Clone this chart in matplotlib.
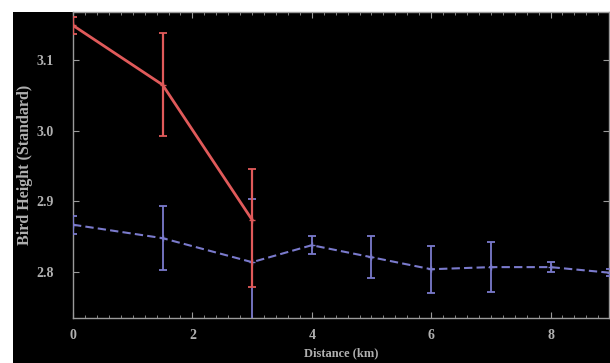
import matplotlib
matplotlib.use("Agg")
import matplotlib.pyplot as plt
from matplotlib.patches import Rectangle
from matplotlib.ticker import MultipleLocator

# Data
red_x = [0, 1.5, 3]
red_y = [3.149, 3.065, 2.874]
red_err_lo = [0.012, 0.073, 0.095]
red_err_hi = [0.012, 0.073, 0.072]

blue_x = [0, 1.5, 3, 4, 5, 6, 7, 8, 9]
blue_y = [2.867, 2.848, 2.814, 2.838, 2.821, 2.804, 2.807, 2.807, 2.799]
blue_err = [0.013, 0.045, 0.09, 0.013, 0.03, 0.033, 0.035, 0.007, 0.005]

x_ticks = [0, 2, 4, 6, 8]
y_ticks = [2.8, 2.9, 3.0, 3.1]
x_label = "Distance (km)"
y_label = "Bird Height (Standard)"

plt.rcParams['font.family'] = ['Liberation Serif', 'DejaVu Serif']

fig = plt.figure(figsize=(6.10, 3.63), dpi=100, facecolor='white')
fig.patches.append(Rectangle((13/610, 0), 1 - 13/610, 1 - 12/363,
                             transform=fig.transFigure, facecolor='black',
                             edgecolor='none', zorder=-10))
ax = fig.add_axes([73/610, 1 - 318/363, (609 - 73)/610, (318 - 12)/363])
ax.set_zorder(5)
ax.set_facecolor('black')

ax.errorbar(blue_x, blue_y, yerr=blue_err, color='#7a7acc', lw=1.5,
            ls=(0, (4, 2)), capsize=3, elinewidth=1.3, capthick=1.3,
            marker='+', ms=5, zorder=3)
ax.errorbar(red_x, red_y, yerr=[red_err_lo, red_err_hi], color='#e05a5a', lw=2.0,
            capsize=3, elinewidth=1.6, capthick=1.3, marker='+', ms=5, zorder=4)

ax.set_xlim(0, 8.98)
ax.set_ylim(2.735, 3.168)
ax.set_xticks(x_ticks)
ax.set_yticks(y_ticks)
ax.set_yticklabels([f"{v:.1f}" for v in y_ticks])
ax.xaxis.set_minor_locator(MultipleLocator(0.2))

for s in ax.spines.values():
    s.set_color('#9a9a9a')
    s.set_linewidth(1.0)
ax.tick_params(which='both', direction='in', colors='#9a9a9a', top=True, right=True,
               labelsize=10)
ax.tick_params(which='major', length=4)
ax.tick_params(which='minor', length=2.5)
ax.tick_params(axis='y', pad=14)
ax.tick_params(axis='x', pad=8)
for lab in ax.get_xticklabels() + ax.get_yticklabels():
    lab.set_color('#b0b0b0')
    lab.set_fontweight('bold')

ax.set_xlabel(x_label, color='#b0b0b0', fontsize=9, fontweight='bold', labelpad=4)
ax.set_ylabel(y_label, color='#b0b0b0', fontsize=11.5, fontweight='bold', labelpad=2)

fig.savefig("out.png", dpi=100, facecolor='white')
